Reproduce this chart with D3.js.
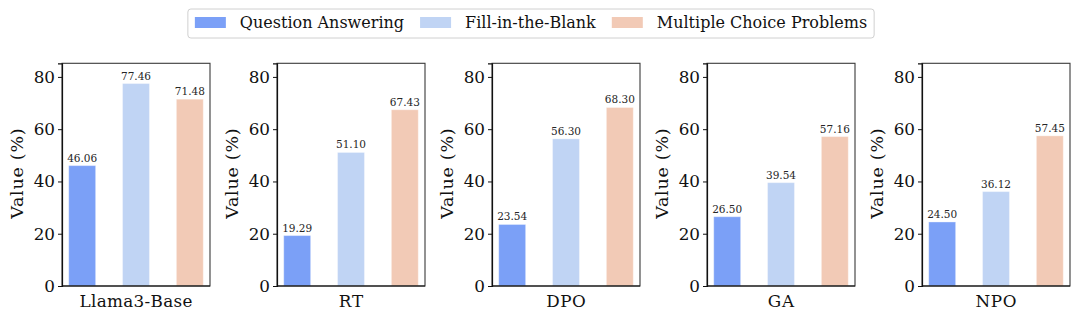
<!DOCTYPE html>
<html><head><meta charset="utf-8">
<script src="https://cdn.jsdelivr.net/npm/d3@7"></script>
<style>body{margin:0;background:#fff}svg{display:block}</style>
</head><body>
<svg id="c" width="1079" height="318"></svg>
<script>
const models = ["Llama3-Base", "RT", "DPO", "GA", "NPO"];
const seriesNames = ["Question Answering", "Fill-in-the-Blank", "Multiple Choice Problems"];
const qa  = [46.06, 19.29, 23.54, 26.50, 24.50];
const fib = [77.46, 51.10, 56.30, 39.54, 36.12];
const mcp = [71.48, 67.43, 68.30, 57.16, 57.45];
const yTicks = [0, 20, 40, 60, 80];
const colors = ["#7ba0f7", "#c0d4f4", "#f2cab6"];

const series = [qa, fib, mcp];
const svg = d3.select("#c");
const font = "DejaVu Serif";
const plotTop = 63.3, plotBottom = 286, pw = 148, step = 215, left0 = 62;
const ymax = d3.max(series.flat()) * 1.1;
const y = d3.scaleLinear().domain([0, ymax]).range([plotBottom, plotTop]);

function widen(sel, f) {
  const w = sel.node().getComputedTextLength();
  sel.attr("textLength", w * f).attr("lengthAdjust", "spacing");
}

models.forEach((m, i) => {
  const L = left0 + i * step;
  const x = d3.scaleLinear().domain([-0.375, 2.375]).range([L, L + pw]);
  const g = svg.append("g");
  series.forEach((s, k) => {
    const v = s[i];
    g.append("rect")
      .attr("x", x(k - 0.25)).attr("width", x(k + 0.25) - x(k - 0.25))
      .attr("y", y(v)).attr("height", y(0) - y(v))
      .attr("fill", colors[k]).attr("stroke", "#ffffff").attr("stroke-opacity", 0.35).attr("stroke-width", 1);
    g.append("text").attr("x", x(k)).attr("y", y(v) - 4)
      .attr("text-anchor", "middle").attr("font-family", font).attr("font-size", 10.5)
      .attr("fill", "#262626").text(v.toFixed(2));
  });
  g.append("rect").attr("x", L).attr("y", plotTop).attr("width", pw).attr("height", plotBottom - plotTop)
    .attr("fill", "none").attr("stroke", "#3a3a3a").attr("stroke-width", 1.1);
  const ax = d3.axisLeft(y).tickValues(yTicks).tickSize(4).tickPadding(3);
  const ga = svg.append("g").attr("transform", `translate(${L},0)`).call(ax);
  ga.select(".domain").attr("stroke", "#111").attr("stroke-width", 1.2);
  ga.selectAll(".tick line").attr("stroke", "#111").attr("stroke-width", 1);
  ga.selectAll(".tick text").attr("font-family", font).attr("font-size", 16.8).attr("fill", "#111");
  svg.append("line").attr("x1", L).attr("x2", L + pw).attr("y1", plotBottom).attr("y2", plotBottom)
    .attr("stroke", "#111").attr("stroke-width", 1.2);
  const xl = svg.append("text").attr("x", L + pw / 2).attr("y", 306.5).attr("text-anchor", "middle")
    .attr("font-family", font).attr("font-size", 16.8).attr("fill", "#111").text(m);
  widen(xl, 1.03);
  const yl = svg.append("text").attr("transform", `translate(${L - 45},${(plotTop + plotBottom) / 2 - 1}) rotate(-90)`)
    .attr("text-anchor", "middle").attr("dominant-baseline", "central")
    .attr("font-family", font).attr("font-size", 17.5).attr("fill", "#111").text("Value (%)");
  widen(yl, 1.07);
});

const lg = svg.append("g");
const patchW = 31, patchH = 11, gapT = 14, gapItem = 16, pad = 7;
const items = [];
let cx = 0;
seriesNames.forEach((n, k) => {
  const t = lg.append("text").attr("font-family", font).attr("font-size", 16).attr("fill", "#111")
    .attr("y", 28.3).text(n);
  const w = t.node().getComputedTextLength();
  items.push({ t, w, x: cx });
  cx += patchW + gapT + w + gapItem;
});
const totalW = cx - gapItem + 2 * pad;
const lx = 531 - totalW / 2;
lg.insert("rect", ":first-child").attr("x", lx).attr("y", 9).attr("width", totalW).attr("height", 29)
  .attr("rx", 3).attr("fill", "#fff").attr("stroke", "#d0d0d0").attr("stroke-width", 1);
items.forEach((it, k) => {
  const px = lx + pad + it.x;
  lg.append("rect").attr("x", px).attr("y", 17).attr("width", patchW).attr("height", patchH).attr("fill", colors[k]);
  it.t.attr("x", px + patchW + gapT);
});
</script>
</body></html>
